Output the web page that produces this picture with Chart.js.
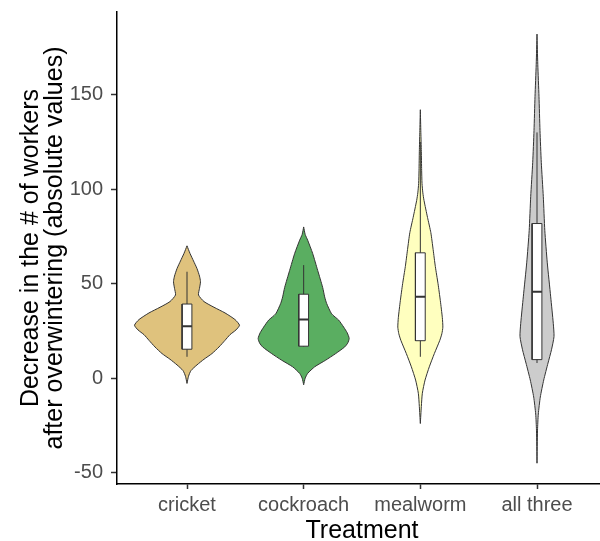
<!DOCTYPE html>
<html><head><meta charset="utf-8">
<script src="https://cdn.jsdelivr.net/npm/chart.js@4"></script>
<style>
html,body{margin:0;padding:0;overflow:hidden;background:#fff;width:600px;height:541px}
#wrap{width:607px;height:541px}
</style></head>
<body><div id="wrap"><canvas id="c" width="607" height="541"></canvas></div>
<script>
// ---- data ----
const categories = ['cricket', 'cockroach', 'mealworm', 'all three'];
const yTicks = [-50, 0, 50, 100, 150];

// violin profiles: value levels (top to bottom) and relative density (max = 1)
const cricketLevels  = [70, 66, 62, 58, 54, 51, 47.5, 44, 40.5, 37.5, 34.5, 31, 28, 25.5, 23, 20, 16.5, 13, 10, 7, 4, 1, -2.8];
const cricketDensity = [0, .057, .124, .19, .238, .257, .238, .219, .324, .514, .724, .914, 1, .933, .819, .724, .61, .476, .324, .19, .076, .029, 0];

const cockroachLevels  = [80, 76, 73, 66, 57, 48, 43, 39.5, 34, 30.7, 27, 24, 21, 18.5, 16.5, 13, 9.5, 6, 2.5, 0, -3.5];
const cockroachDensity = [0, .029, .076, .171, .267, .362, .4, .438, .533, .667, .762, .829, .867, .838, .781, .61, .419, .21, .076, .029, 0];

const mealwormLevels  = [142, 130, 120, 110, 103, 98, 94, 85, 77, 68, 59, 50, 41, 32, 27, 23.5, 20, 13, 6, -1, -8, -15, -24];
const mealwormDensity = [0, .01, .019, .025, .032, .048, .07, .137, .2, .244, .286, .337, .381, .419, .429, .41, .371, .267, .171, .09, .038, .019, 0];

const allThreeLevels  = [182, 166, 149, 131, 114, 96, 78, 61, 43, 29, 22, 15, 8, -1, -10, -19, -27.5, -45];
const allThreeDensity = [0, .015, .038, .057, .082, .12, .149, .196, .261, .31, .324, .276, .21, .128, .063, .025, .01, 0];

// box plot statistics
const lowerWhisker = [11.3, 16.6, 11.3, 8];
const q1           = [15.3, 16.9, 19.8, 9.8];
const medians      = [27.5, 31, 43, 45.7];
const q3           = [39.2, 44.4, 66.3, 81.8];
const upperWhisker = [56.3, 59.8, 125, 130];

// ---- styling ----
const fills = ['#DFC27D', '#5AAE61', '#FFFFBF', '#CCCCCC'];
const MAXW = 0.45;   // half width of widest violin, in category units
const BOXW = 0.042;  // half width of box
const FONT = '"Liberation Sans", Arial, Helvetica, sans-serif';

const profiles = [
  [cricketLevels, cricketDensity],
  [cockroachLevels, cockroachDensity],
  [mealwormLevels, mealwormDensity],
  [allThreeLevels, allThreeDensity]
];

function violinPoints(i, levels, dens) {
  const c = i + 1, pts = [];
  for (let k = 0; k < levels.length; k++) pts.push({x: c + dens[k] * MAXW, y: levels[k]});
  for (let k = levels.length - 1; k >= 0; k--) pts.push({x: c - dens[k] * MAXW, y: levels[k]});
  pts.push({x: c + dens[0] * MAXW, y: levels[0]});
  return pts;
}

const datasets = [];
profiles.forEach((p, i) => {
  datasets.push({
    data: violinPoints(i, p[0], p[1]),
    showLine: true, fill: 'shape', tension: 0.2,
    backgroundColor: fills[i], borderColor: '#333333', borderWidth: 1,
    pointRadius: 0, order: 4
  });
});

// whiskers
const wh = [];
categories.forEach((_, i) => {
  wh.push({x: i + 1, y: lowerWhisker[i]}, {x: i + 1, y: upperWhisker[i]}, {x: i + 1, y: null});
});
datasets.push({data: wh, showLine: true, spanGaps: false, borderColor: '#333333', borderWidth: 1, pointRadius: 0, fill: false, order: 3});

// boxes
categories.forEach((_, i) => {
  const c = i + 1;
  datasets.push({
    data: [{x: c - BOXW, y: q1[i]}, {x: c + BOXW, y: q1[i]}, {x: c + BOXW, y: q3[i]}, {x: c - BOXW, y: q3[i]}, {x: c - BOXW, y: q1[i]}],
    showLine: true, fill: 'shape', tension: 0,
    backgroundColor: '#FFFFFF', borderColor: '#333333', borderWidth: 1,
    pointRadius: 0, order: 2
  });
});

// medians
const md = [];
categories.forEach((_, i) => {
  md.push({x: i + 1 - BOXW, y: medians[i]}, {x: i + 1 + BOXW, y: medians[i]}, {x: i + 1, y: null});
});
datasets.push({data: md, showLine: true, spanGaps: false, borderColor: '#333333', borderWidth: 2, pointRadius: 0, fill: false, order: 1});

function noPad(s) { s.paddingTop = 0; s.paddingBottom = 0; s.paddingLeft = 0; s.paddingRight = 0; }

new Chart(document.getElementById('c'), {
  type: 'scatter',
  data: {datasets},
  options: {
    responsive: false,
    animation: false,
    layout: {padding: {top: 12, left: 0, right: 0, bottom: 0}},
    plugins: {legend: {display: false}, tooltip: {enabled: false}},
    scales: {
      x: {
        type: 'linear', min: 0.4, max: 4.6,
        afterFit(s) { s.height = 57; noPad(s); },
        afterBuildTicks(s) { s.ticks = categories.map((_, i) => ({value: i + 1})); },
        ticks: {
          callback: (v) => categories[Math.round(v) - 1],
          color: '#4D4D4D', font: {family: FONT, size: 20}, padding: 4,
          autoSkip: false, maxRotation: 0
        },
        grid: {display: true, drawOnChartArea: false, drawTicks: true, tickLength: 5, tickColor: '#333333', tickWidth: 1.5},
        border: {display: true, color: '#000000', width: 1.5},
        title: {display: true, text: 'Treatment', color: '#000000', font: {family: FONT, size: 25, lineHeight: 0.8}, padding: 0}
      },
      y: {
        type: 'linear', min: -56, max: 193.7,
        afterFit(s) { s.width = 117; noPad(s); },
        afterBuildTicks(s) { s.ticks = yTicks.map(v => ({value: v})); },
        ticks: {color: '#4D4D4D', font: {family: FONT, size: 20}, padding: 8},
        grid: {display: true, drawOnChartArea: false, drawTicks: true, tickLength: 6, tickColor: '#333333', tickWidth: 1.5},
        border: {display: true, color: '#000000', width: 1.5},
        title: {
          display: true,
          text: ['Decrease in the # of workers', 'after overwintering (absolute values)'],
          color: '#000000', font: {family: FONT, size: 25, lineHeight: 0.96},
          padding: {top: 19, bottom: 0}
        }
      }
    }
  }
});
</script>
</body></html>
